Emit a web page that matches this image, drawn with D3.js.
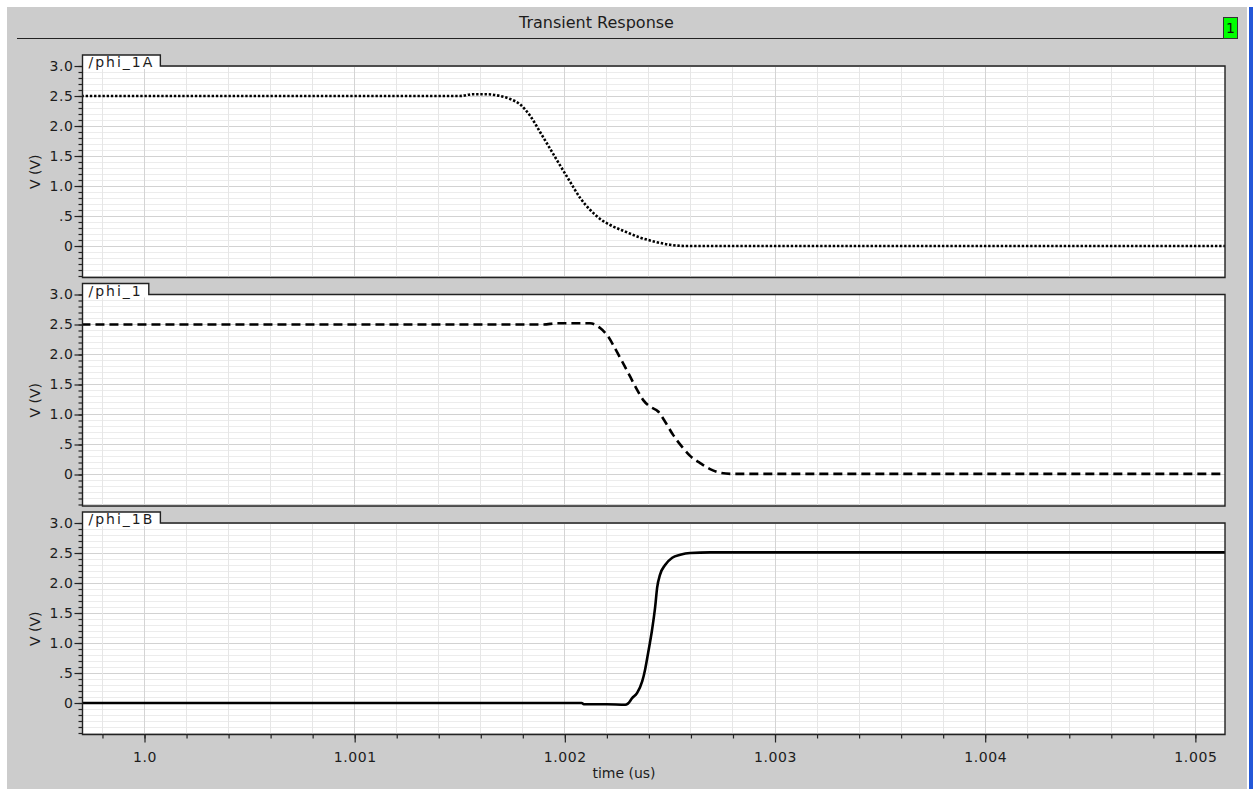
<!DOCTYPE html>
<html>
<head>
<meta charset="utf-8">
<script src="https://cdn.jsdelivr.net/npm/d3@7"></script>
<style>
  body { margin: 0; background: #fff; }
  svg { display: block; font-family: "DejaVu Sans", "Noto Sans", sans-serif; }
</style>
</head>
<body>
<svg id="chart" width="1253" height="789"></svg>
<script>
// ---- waveform data: time (us) and voltage (V) for each node ----
const signalNames = ["/phi_1A", "/phi_1", "/phi_1B"];

const phi1aTime = [0.9997, 1.0015, 1.001564, 1.001621, 1.001692, 1.00174, 1.001787, 1.001835,
                   1.001882, 1.00193, 1.001978, 1.002025, 1.002073, 1.002121, 1.002168, 1.002216,
                   1.002287, 1.002359, 1.00243, 1.002501, 1.002573, 1.00515];
const phi1aVolt = [2.50, 2.50, 2.53, 2.53, 2.50, 2.45, 2.36, 2.17,
                   1.90, 1.62, 1.34, 1.07, 0.80, 0.60, 0.45, 0.35,
                   0.24, 0.14, 0.07, 0.02, 0.00, 0.00];

const phi1Time = [0.9997, 1.0019, 1.00196, 1.00212, 1.002168, 1.002206, 1.002239, 1.002273,
                  1.002311, 1.002344, 1.002373, 1.002406, 1.002444, 1.002477, 1.002515, 1.002558,
                  1.002596, 1.002644, 1.002691, 1.002739, 1.002801, 1.00515];
const phi1Volt = [2.50, 2.50, 2.52, 2.52, 2.44, 2.30, 2.10, 1.88,
                  1.63, 1.41, 1.24, 1.13, 1.05, 0.88, 0.66, 0.46,
                  0.31, 0.19, 0.09, 0.03, 0.01, 0.01];

const phi1bTime = [0.9997, 1.00208, 1.00209, 1.0022, 1.002287, 1.0023, 1.00232, 1.002344,
                   1.002368, 1.002382, 1.002396, 1.002415, 1.00243, 1.002439, 1.002453, 1.002477,
                   1.002511, 1.002549, 1.002596, 1.002691, 1.00515];
const phi1bVolt = [0.00, 0.00, -0.02, -0.02, -0.03, -0.01, 0.08, 0.17,
                   0.36, 0.56, 0.83, 1.22, 1.61, 1.92, 2.14, 2.30,
                   2.42, 2.47, 2.50, 2.51, 2.51];

// ---- axes ----
const timeRange = [0.999705, 1.005141];
const voltRange = [-0.525, 3.0];
const xMajorTicks = [1.0, 1.001, 1.002, 1.003, 1.004, 1.005];
const xTickLabels = ["1.0", "1.001", "1.002", "1.003", "1.004", "1.005"];
const yMajorTicks = [3.0, 2.5, 2.0, 1.5, 1.0, 0.5, 0];
const yTickLabels = ["3.0", "2.5", "2.0", "1.5", "1.0", ".5", "0"];
const chartTitle = "Transient Response";
const xTitle = "time (us)";
const yTitle = "V (V)";
const graphIndex = "1";

// ---- layout ----
const svg = d3.select("#chart");
const W = 1253, H = 789;
const plotLeft = 82.5, plotRight = 1225;
const firstTop = 66, panelStep = 228.5, plotH = 211.5, tabH = 11;
const textColor = "#1c1c1c";

const x = d3.scaleLinear().domain(timeRange).range([plotLeft, plotRight]);

// minor tick positions (0.2 ns in x, 0.1 V in y)
const xMinor = d3.range(-2, 27).map(i => 1.0 + i * 0.0002)
  .filter(t => t >= timeRange[0] && t <= timeRange[1]);
const yMinor = d3.range(-5, 31).map(i => i * 0.1)
  .filter(v => v >= voltRange[0] - 1e-9 && v <= voltRange[1] + 1e-9);

// window background
svg.append("rect").attr("width", W).attr("height", H).attr("fill", "#ffffff");
svg.append("rect").attr("x", 7).attr("y", 7).attr("width", 1240).attr("height", H - 7).attr("fill", "#cccccc");
svg.append("rect").attr("x", 1249).attr("y", 7).attr("width", 4).attr("height", H - 7).attr("fill", "#2458d8");

// title bar
svg.append("text").attr("x", 596.5).attr("y", 28).attr("text-anchor", "middle")
  .attr("font-size", 16).attr("fill", textColor).text(chartTitle);
svg.append("line").attr("x1", 17).attr("x2", 1224).attr("y1", 38.5).attr("y2", 38.5)
  .attr("stroke", "#222").attr("stroke-width", 1.2);
svg.append("rect").attr("x", 1223.5).attr("y", 17.5).attr("width", 14).attr("height", 21)
  .attr("fill", "#00ff00").attr("stroke", "#333").attr("stroke-width", 1);
svg.append("text").attr("x", 1230.5).attr("y", 33).attr("text-anchor", "middle")
  .attr("font-size", 14).attr("fill", "#111").text(graphIndex);

const panels = [
  { name: signalNames[0], t: phi1aTime, v: phi1aVolt, dash: "2.4,1.8", width: 2.6 },
  { name: signalNames[1], t: phi1Time, v: phi1Volt, dash: "9,5", width: 2.6 },
  { name: signalNames[2], t: phi1bTime, v: phi1bVolt, dash: null, width: 2.6 }
];

panels.forEach((p, i) => {
  const top = firstTop + i * panelStep;
  const bottom = top + plotH;
  const y = d3.scaleLinear().domain(voltRange).range([bottom, top]);
  const g = svg.append("g");

  // plot area
  g.append("rect").attr("x", plotLeft).attr("y", top).attr("width", plotRight - plotLeft)
    .attr("height", plotH).attr("fill", "#ffffff");

  const grid = g.append("g").attr("shape-rendering", "crispEdges");
  grid.selectAll(".hmin").data(yMinor).join("line")
    .attr("x1", plotLeft).attr("x2", plotRight)
    .attr("y1", d => y(d)).attr("y2", d => y(d))
    .attr("stroke", d => Math.abs(d * 2 - Math.round(d * 2)) < 1e-6 ? "#d2d2d2" : "#ececec");
  grid.selectAll(".vmin").data(xMinor).join("line")
    .attr("y1", top).attr("y2", bottom)
    .attr("x1", d => x(d)).attr("x2", d => x(d))
    .attr("stroke", "#e6e6e6");
  grid.selectAll(".vmaj").data(xMajorTicks).join("line")
    .attr("y1", top).attr("y2", bottom)
    .attr("x1", d => x(d)).attr("x2", d => x(d))
    .attr("stroke", "#d4d4d4");

  // waveform
  const clipId = "clip" + i;
  svg.append("clipPath").attr("id", clipId).append("rect")
    .attr("x", plotLeft).attr("y", top).attr("width", plotRight - plotLeft).attr("height", plotH);
  const pts = p.t.map((t, k) => [t, p.v[k]]);
  const line = d3.line().x(d => x(d[0])).y(d => y(d[1])).curve(d3.curveMonotoneX);
  g.append("path").attr("clip-path", `url(#${clipId})`)
    .attr("d", line(pts)).attr("fill", "none")
    .attr("stroke", "#000").attr("stroke-width", p.width)
    .attr("stroke-dasharray", p.dash);

  // border with the signal tab
  const tabText = g.append("text").attr("x", plotLeft + 6).attr("y", top + 1)
    .attr("font-size", 14).attr("letter-spacing", 2).attr("fill", textColor).text(p.name);
  const tabRight = plotLeft + 6 + tabText.node().getComputedTextLength() + 6;
  g.insert("rect", "text").attr("x", plotLeft).attr("y", top - tabH)
    .attr("width", tabRight - plotLeft).attr("height", tabH + 3).attr("fill", "#ffffff");
  g.append("path")
    .attr("d", `M${plotLeft},${bottom} L${plotLeft},${top - tabH} L${tabRight},${top - tabH} ` +
               `L${tabRight},${top} L${plotRight},${top} L${plotRight},${bottom} Z`)
    .attr("fill", "none").attr("stroke", "#222").attr("stroke-width", 1.4);

  // y axis
  const yAxisMinor = d3.axisLeft(y).tickValues(yMinor).tickSize(4).tickFormat("");
  const yAxisMajor = d3.axisLeft(y).tickValues(yMajorTicks).tickSize(8).tickPadding(1)
    .tickFormat((d, k) => yTickLabels[k]);
  [yAxisMinor, yAxisMajor].forEach(ax => {
    const a = g.append("g").attr("transform", `translate(${plotLeft},0)`).call(ax);
    a.select(".domain").remove();
    a.selectAll("line").attr("stroke", "#222").attr("stroke-width", 1.2);
    a.selectAll("text").attr("font-size", 14).attr("letter-spacing", 0.6)
      .attr("fill", textColor).attr("font-family", "DejaVu Sans, sans-serif");
  });

  g.append("text")
    .attr("transform", `translate(35,${top + plotH / 2}) rotate(-90)`)
    .attr("text-anchor", "middle").attr("dy", "0.35em")
    .attr("font-size", 14).attr("fill", textColor).text(yTitle);

  // x axis on the last panel only
  if (i === panels.length - 1) {
    const xAxisMinor = d3.axisBottom(x).tickValues(xMinor).tickSize(4).tickFormat("");
    const xAxisMajor = d3.axisBottom(x).tickValues(xMajorTicks).tickSize(8).tickPadding(10)
      .tickFormat((d, k) => xTickLabels[k]);
    [xAxisMinor, xAxisMajor].forEach(ax => {
      const a = g.append("g").attr("transform", `translate(0,${bottom})`).call(ax);
      a.select(".domain").remove();
      a.selectAll("line").attr("stroke", "#222").attr("stroke-width", 1.2);
      a.selectAll("text").attr("font-size", 14).attr("letter-spacing", 0.6)
        .attr("fill", textColor).attr("font-family", "DejaVu Sans, sans-serif");
    });
    g.append("text").attr("x", 624).attr("y", 778).attr("text-anchor", "middle")
      .attr("font-size", 14).attr("fill", textColor).text(xTitle);
  }
});
</script>
</body>
</html>
